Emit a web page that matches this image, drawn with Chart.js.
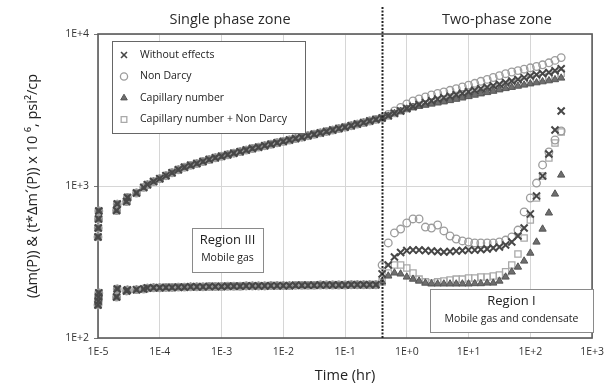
<!DOCTYPE html>
<html><head><meta charset="utf-8">
<script src="https://cdn.jsdelivr.net/npm/chart.js@4.4.1/dist/chart.umd.min.js"></script>
<style>html,body{margin:0;padding:0;background:#fff}#wrap{width:612px;height:385px}</style>
</head><body><div id="wrap"><canvas id="c" width="612" height="385"></canvas></div>
<script>
// ---------------- DATA ----------------
const seriesNames = ['Without effects', 'Non Darcy', 'Capillary number', 'Capillary number + Non Darcy'];

// Single phase zone (all four cases coincide), time in hr
const timeSingle = [1.00e-5, 1.01e-5, 1.02e-5, 1.03e-5, 2.00e-5, 2.05e-5, 2.90e-5, 3.00e-5, 4.20e-5, 5.50e-5,
  6.31e-5, 7.94e-5, 1.00e-4, 1.26e-4, 1.58e-4, 2.00e-4, 2.51e-4, 3.16e-4, 3.98e-4, 5.01e-4,
  6.31e-4, 7.94e-4, 1.00e-3, 1.26e-3, 1.58e-3, 2.00e-3, 2.51e-3, 3.16e-3, 3.98e-3, 5.01e-3,
  6.31e-3, 7.94e-3, 1.00e-2, 1.26e-2, 1.58e-2, 2.00e-2, 2.51e-2, 3.16e-2, 3.98e-2, 5.01e-2,
  6.31e-2, 7.94e-2, 1.00e-1, 1.26e-1, 1.58e-1, 2.00e-1, 2.51e-1, 3.16e-1];
const pressureSingle = [462, 529, 607, 685, 690, 760, 790, 840, 899, 979,
  1020, 1069, 1117, 1169, 1221, 1279, 1327, 1367, 1404, 1448,
  1492, 1533, 1568, 1605, 1644, 1682, 1723, 1763, 1801, 1842,
  1882, 1924, 1965, 2007, 2050, 2095, 2142, 2188, 2235, 2284,
  2333, 2386, 2437, 2493, 2554, 2612, 2676, 2742];
const derivativeSingle = [165, 175, 186, 198, 186, 210, 204, 207, 208, 210,
  213, 214, 214, 215, 215, 216, 216, 217, 217, 217,
  218, 218, 218, 219, 219, 219, 220, 220, 220, 220,
  221, 221, 221, 221, 222, 222, 222, 222, 223, 223,
  223, 223, 223, 224, 224, 224, 224, 224];

// Two-phase zone, time in hr
const timeTwo = [0.398, 0.501, 0.631, 0.794, 1.00, 1.26, 1.58, 2.00, 2.51, 3.16,
  3.98, 5.01, 6.31, 7.94, 10.0, 12.6, 15.8, 20.0, 25.1, 31.6,
  39.8, 50.1, 63.1, 79.4, 100, 126, 158, 200, 251, 316];

const pressureWithout = [2801, 2900, 3008, 3119, 3235, 3334, 3437, 3538, 3636, 3731,
  3811, 3899, 3988, 4079, 4173, 4269, 4367, 4467, 4570, 4674,
  4789, 4907, 5027, 5159, 5294, 5399, 5490, 5582, 5728, 5904];
const derivWithout = [264, 302, 341, 365, 376, 379, 379, 376, 373, 371,
  368, 371, 373, 376, 379, 379, 382, 385, 391, 397,
  409, 428, 469, 529, 655, 860, 1163, 1624, 2336, 3114];

const pressureNonDarcy = [2801, 2954, 3115, 3284, 3463, 3625, 3736, 3851, 3968, 4061,
  4154, 4262, 4373, 4487, 4611, 4739, 4884, 5027, 5174, 5325,
  5481, 5623, 5745, 5867, 5993, 6113, 6273, 6465, 6705, 6992];
const derivNonDarcy = [302, 422, 491, 521, 571, 607, 607, 537, 529, 554,
  506, 469, 448, 435, 428, 422, 422, 422, 422, 428,
  441, 462, 513, 675, 834, 1046, 1375, 1674, 2007, 2301];

const pressureCapillary = [2801, 2887, 2999, 3105, 3210, 3294, 3350, 3406, 3463, 3521,
  3580, 3651, 3724, 3798, 3879, 3963, 4042, 4122, 4205, 4295,
  4380, 4460, 4542, 4618, 4703, 4782, 4855, 4930, 5012, 5135];
const derivCapillary = [234, 256, 268, 264, 252, 244, 237, 230, 228, 227,
  227, 227, 227, 227, 227, 228, 228, 230, 230, 237,
  252, 272, 293, 321, 362, 428, 521, 665, 886, 1181];

const pressureCapND = [2801, 2893, 3003, 3112, 3222, 3314, 3393, 3472, 3549, 3626,
  3695, 3775, 3856, 3938, 4026, 4116, 4204, 4294, 4387, 4484,
  4584, 4683, 4784, 4888, 4998, 5090, 5172, 5256, 5370, 5520];
const derivCapND = [234, 268, 302, 302, 289, 268, 244, 234, 230, 234,
  237, 241, 244, 244, 248, 248, 252, 252, 256, 260,
  273, 302, 357, 455, 597, 834, 1163, 1528, 1918, 2266];

const zoneBoundary = 0.39; // hr, end of single phase flow

const xTickValues = [1e-5, 1e-4, 1e-3, 1e-2, 1e-1, 1e0, 1e1, 1e2, 1e3];
const xTickLabels = ['1E-5', '1E-4', '1E-3', '1E-2', '1E-1', '1E+0', '1E+1', '1E+2', '1E+3'];
const yTickValues = [1e2, 1e3, 1e4];
const yTickLabels = ['1E+2', '1E+3', '1E+4'];

const zoneLabels = ['Single phase zone', 'Two-phase zone'];
const regionIII = ['Region III', 'Mobile gas'];
const regionI = ['Region I', 'Mobile gas and condensate'];
const xTitle = 'Time (hr)';
const yTitle = '(\u0394m(P)) & (t*\u0394m\u00B4(P)) x 10 \u2076, psi\u00B2/cp';

// ---------------- BUILD ----------------
const FONT = "'Open Sans', 'DejaVu Sans', sans-serif";
function pts(ts, vs) { return ts.map((t, i) => ({ x: t, y: vs[i] })); }
function series(pTwo, dTwo) {
  return pts(timeSingle, pressureSingle).concat(pts(timeSingle, derivativeSingle),
    pts(timeTwo, pTwo), pts(timeTwo, dTwo));
}
const styles = [
  { pointStyle: 'crossRot', pointRadius: 5, borderColor: '#474747', backgroundColor: '#474747', pointBorderWidth: 2 },
  { pointStyle: 'circle', pointRadius: 3.8, borderColor: '#9c9c9c', backgroundColor: 'rgba(255,255,255,0)', pointBorderWidth: 1.3 },
  { pointStyle: 'triangle', pointRadius: 4.2, borderColor: '#555', backgroundColor: '#6e6e6e', pointBorderWidth: 1 },
  { pointStyle: 'rect', pointRadius: 4.4, borderColor: '#a9a9a9', backgroundColor: 'rgba(255,255,255,0)', pointBorderWidth: 1.3 }
];
const legendRadius = [4.2, 3.6, 3.8, 4];
const seriesData = [
  series(pressureWithout, derivWithout),
  series(pressureNonDarcy, derivNonDarcy),
  series(pressureCapillary, derivCapillary),
  series(pressureCapND, derivCapND)
];
const datasets = seriesNames.map((n, i) => Object.assign({
  label: n, data: seriesData[i], showLine: false, clip: false, pointHoverRadius: 0
}, styles[i]));

const decor = {
  id: 'decor',
  beforeDatasetsDraw(chart) {
    const { ctx, chartArea: ca } = chart;
    ctx.save();
    ctx.strokeStyle = '#5a5a5a'; ctx.lineWidth = 1.6;
    ctx.strokeRect(ca.left, ca.top, ca.right - ca.left, ca.bottom - ca.top);
    ctx.restore();
  },
  afterDatasetsDraw(chart) {
    const { ctx, chartArea: ca, scales } = chart;
    ctx.save();
    // dotted boundary
    const bx = Math.round(scales.x.getPixelForValue(zoneBoundary)) + 0.5;
    ctx.strokeStyle = '#222'; ctx.lineWidth = 2; ctx.setLineDash([2, 1.5]);
    ctx.beginPath(); ctx.moveTo(bx, 7); ctx.lineTo(bx, ca.bottom); ctx.stroke();
    ctx.setLineDash([]);
    // zone labels
    ctx.fillStyle = '#2a2a2a'; ctx.textAlign = 'center'; ctx.textBaseline = 'middle';
    ctx.font = '14.5px ' + FONT;
    ctx.fillText(zoneLabels[0], ca.left + 132, 20);
    ctx.fillText(zoneLabels[1], ca.left + 399, 20);
    // region boxes
    function box(x, y, w, h, lines, y1, y2) {
      ctx.fillStyle = '#fff'; ctx.fillRect(x, y, w, h);
      ctx.strokeStyle = '#8a8a8a'; ctx.lineWidth = 1; ctx.strokeRect(x + 0.5, y + 0.5, w, h);
      ctx.fillStyle = '#222';
      ctx.font = '13px ' + FONT; ctx.fillText(lines[0], x + w / 2, y + y1);
      ctx.font = '10.5px ' + FONT; ctx.fillText(lines[1], x + w / 2, y + y2);
    }
    box(ca.left + 94, ca.top + 194, 71, 44, regionIII, 12, 30);
    box(ca.left + 332, ca.top + 255, 163, 43, regionI, 12, 30);
    // legend
    const lx = ca.left + 14, ly = ca.top + 7, lw = 193, lh = 92;
    ctx.fillStyle = '#fff'; ctx.fillRect(lx, ly, lw, lh);
    ctx.strokeStyle = '#666'; ctx.lineWidth = 1; ctx.strokeRect(lx + 0.5, ly + 0.5, lw, lh);
    ctx.textAlign = 'left'; ctx.font = '10.5px ' + FONT;
    chart.data.datasets.forEach((ds, i) => {
      const y = ly + 14 + i * 21.5;
      ctx.strokeStyle = ds.borderColor; ctx.fillStyle = ds.backgroundColor; ctx.lineWidth = Math.min(ds.pointBorderWidth, 1.6);
      Chart.helpers.drawPoint(ctx, { pointStyle: ds.pointStyle, radius: legendRadius[i], rotation: 0, borderWidth: ctx.lineWidth }, lx + 12, y);
      ctx.fillStyle = '#222';
      ctx.fillText(ds.label, lx + 28, y);
    });
    ctx.restore();
  }
};

new Chart(document.getElementById('c'), {
  type: 'scatter',
  data: { datasets },
  options: {
    responsive: false, animation: false, devicePixelRatio: 1,
    layout: { padding: { left: 0, top: 34, right: 14, bottom: 0 } },
    plugins: { legend: { display: false }, tooltip: { enabled: false } },
    scales: {
      x: {
        type: 'logarithmic', min: 1e-5, max: 1e3,
        afterBuildTicks: s => { s.ticks = xTickValues.map(v => ({ value: v })); },
        afterFit: s => { s.height = 47; },
        ticks: { autoSkip: false, maxRotation: 0, padding: 8, color: '#333', font: { family: FONT, size: 10.5 },
          callback: (v, i) => xTickLabels[i] },
        grid: { color: '#d6d6d6', lineWidth: 1, drawTicks: false },
        border: { display: false },
        title: { display: true, text: xTitle, color: '#222', font: { family: FONT, size: 14.5 }, padding: { top: 0, bottom: 0 } }
      },
      y: {
        type: 'logarithmic', min: 1e2, max: 1e4,
        afterBuildTicks: s => { s.ticks = yTickValues.map(v => ({ value: v })); },
        afterFit: s => { s.width = 98; },
        ticks: { autoSkip: false, padding: 5, color: '#333', font: { family: FONT, size: 10.5 },
          callback: (v, i) => yTickLabels[i] },
        grid: { color: '#d6d6d6', lineWidth: 1, drawTicks: true, tickLength: 4, tickColor: '#777' },
        border: { display: false },
        title: { display: true, text: yTitle, color: '#222', font: { family: FONT, size: 14.5 }, padding: { top: 24, bottom: 0 } }
      }
    }
  },
  plugins: [decor]
});
</script></body></html>
